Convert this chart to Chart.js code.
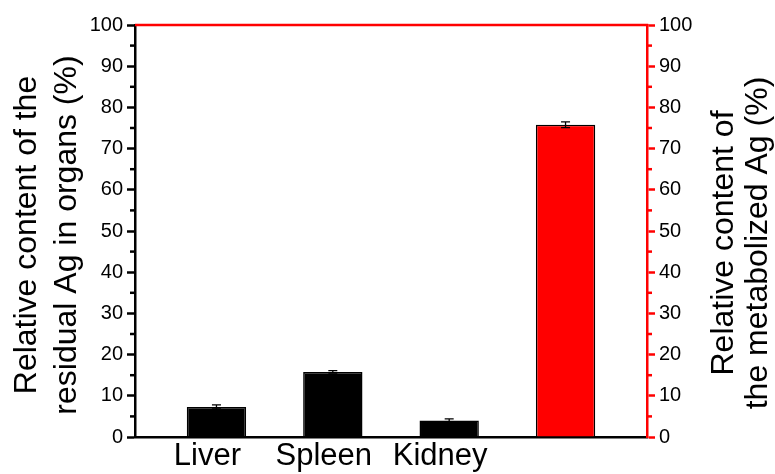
<!DOCTYPE html>
<html>
<head>
<meta charset="utf-8">
<script src="https://cdn.jsdelivr.net/npm/chart.js@4/dist/chart.umd.min.js"></script>
<style>
  html, body { margin: 0; padding: 0; background: #fff; }
  #wrap { width: 775px; height: 474px; }
</style>
</head>
<body>
<div id="wrap"><canvas id="c" width="775" height="474"></canvas></div>
<script>
// Relative content of residual Ag per organ (left axis) and metabolized Ag (right axis), in %
const organs = ['Liver', 'Spleen', 'Kidney'];
const organValues = [7.3, 15.8, 4.0];
const organErrors = [0.5, 0.3, 0.4];
const metabolizedValues = [75.8];
const metabolizedErrors = [0.7];
const minorTickValues = [5, 15, 25, 35, 45, 55, 65, 75, 85, 95];

const leftTitle = ['Relative content of the', 'residual Ag in organs (%)'];
const rightTitle = ['Relative content of', 'the metabolized Ag (%)'];

const FONT = "'Liberation Sans', Arial, Helvetica, sans-serif";
const RED = '#ff0000';

const organData = organs.map((_, i) => ({ x: i + 1, y: organValues[i] }));
const metabolizedData = metabolizedValues.map((v, i) => ({ x: organs.length + 1 + i, y: v }));

// Frame, minor ticks, error bars and rotated axis titles
const decorations = {
  id: 'decorations',
  afterDatasetsDraw(chart) {
    const { ctx } = chart;
    ctx.save();
    ctx.strokeStyle = '#000';
    ctx.lineWidth = 1.3;
    chart.data.datasets.forEach((ds, di) => {
      const meta = chart.getDatasetMeta(di);
      const yScale = chart.scales[meta.yAxisID];
      meta.data.forEach((bar, i) => {
        const v = ds.data[i].y, e = ds.errors[i];
        const yt = yScale.getPixelForValue(v + e);
        const yb = yScale.getPixelForValue(v - e);
        const x = bar.x, cap = 4.5;
        ctx.beginPath();
        ctx.moveTo(x, yt); ctx.lineTo(x, yb);
        ctx.moveTo(x - cap, yt); ctx.lineTo(x + cap, yt);
        ctx.moveTo(x - cap, yb); ctx.lineTo(x + cap, yb);
        ctx.stroke();
      });
    });
    ctx.restore();
  },
  afterDraw(chart) {
    const { ctx, chartArea: a } = chart;
    const yL = chart.scales.y, yR = chart.scales.y2;
    ctx.save();
    // top frame line
    ctx.strokeStyle = RED;
    ctx.lineWidth = 2.5;
    ctx.beginPath();
    ctx.moveTo(a.left, a.top);
    ctx.lineTo(a.right + 1.25, a.top);
    ctx.stroke();
    // minor ticks
    ctx.lineWidth = 2.5;
    minorTickValues.forEach(v => {
      const pl = yL.getPixelForValue(v);
      ctx.strokeStyle = '#000';
      ctx.beginPath(); ctx.moveTo(a.left, pl); ctx.lineTo(a.left - 5, pl); ctx.stroke();
      const pr = yR.getPixelForValue(v);
      ctx.strokeStyle = RED;
      ctx.beginPath(); ctx.moveTo(a.right, pr); ctx.lineTo(a.right + 5, pr); ctx.stroke();
    });
    // axis titles, reading bottom to top
    ctx.fillStyle = '#000';
    ctx.font = '32px ' + FONT;
    ctx.textAlign = 'center';
    ctx.textBaseline = 'middle';
    const drawTitle = (lines, xs, cy) => {
      lines.forEach((t, i) => {
        ctx.save();
        ctx.translate(xs[i], cy);
        ctx.rotate(-Math.PI / 2);
        ctx.fillText(t, 0, 0);
        ctx.restore();
      });
    };
    drawTitle(leftTitle, [27, 67], 235);
    drawTitle(rightTitle, [724, 758], 243);
    ctx.restore();
  }
};

new Chart(document.getElementById('c'), {
  type: 'bar',
  data: {
    datasets: [
      {
        label: 'Residual Ag in organs',
        data: organData,
        errors: organErrors,
        yAxisID: 'y',
        backgroundColor: '#000',
        borderColor: '#000',
        borderWidth: 1.5
      },
      {
        label: 'Metabolized Ag',
        data: metabolizedData,
        errors: metabolizedErrors,
        yAxisID: 'y2',
        backgroundColor: RED,
        borderColor: '#000',
        borderWidth: 1.5
      }
    ]
  },
  options: {
    responsive: false,
    animation: false,
    devicePixelRatio: 1,
    grouped: false,
    barPercentage: 0.51,
    categoryPercentage: 1,
    layout: { padding: { top: 25, left: 0, right: 0, bottom: 0 } },
    plugins: { legend: { display: false }, tooltip: { enabled: false } },
    scales: {
      x: {
        type: 'linear',
        min: 0.3,
        max: 4.7,
        offset: false,
        grid: { drawOnChartArea: false, drawTicks: false, offset: false },
        border: { display: true, color: '#000', width: 2.5 },
        afterBuildTicks: s => { s.ticks = organs.map((_, i) => ({ value: i + 1 })); },
        ticks: {
          callback: v => organs[v - 1] ?? '',
          font: { family: FONT, size: 31, lineHeight: 1 },
          color: '#000',
          padding: 4,
          autoSkip: false,
          maxRotation: 0,
          minRotation: 0,
          labelOffset: -9
        },
        afterFit: s => { s.height = 37; }
      },
      y: {
        position: 'left',
        min: 0,
        max: 100,
        ticks: { stepSize: 10, font: { family: FONT, size: 20 }, color: '#000', padding: 4 },
        grid: { drawOnChartArea: false, drawTicks: true, tickLength: 8, tickColor: '#000', tickWidth: 2.5 },
        border: { display: true, color: '#000', width: 2.5 },
        afterFit: s => { s.width = 135; }
      },
      y2: {
        position: 'right',
        min: 0,
        max: 100,
        ticks: { stepSize: 10, font: { family: FONT, size: 20 }, color: '#000', padding: 4 },
        grid: { drawOnChartArea: false, drawTicks: true, tickLength: 8, tickColor: RED, tickWidth: 2.5 },
        border: { display: true, color: RED, width: 2.5 },
        afterFit: s => { s.width = 128; }
      }
    }
  },
  plugins: [decorations]
});
</script>
</body>
</html>
